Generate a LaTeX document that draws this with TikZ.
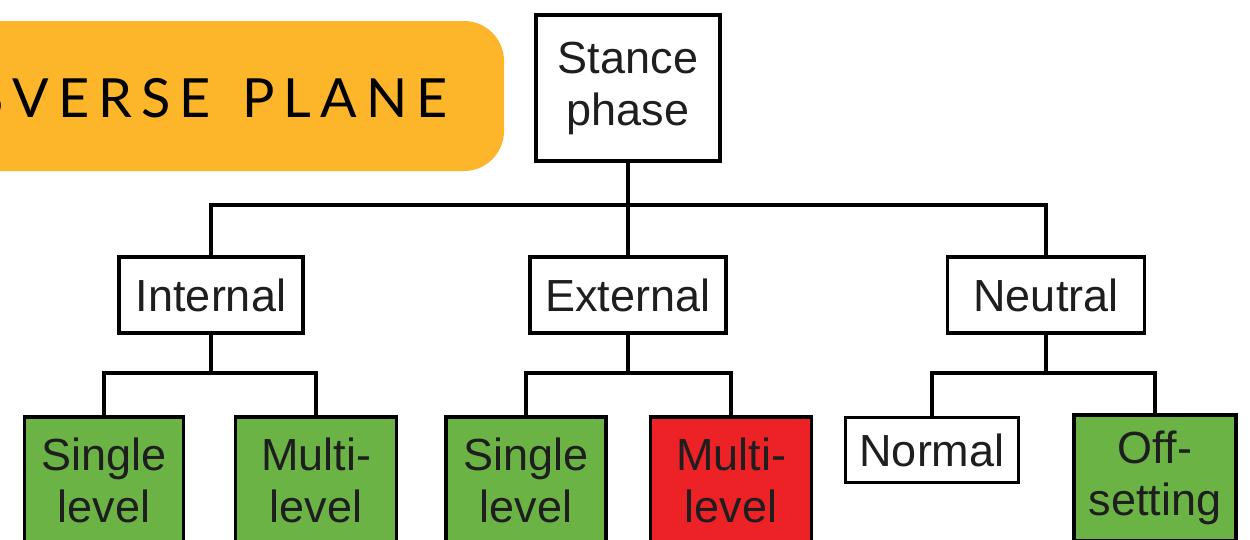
\documentclass[tikz,border=0pt]{standalone}
\usepackage{fontspec}
\setmainfont{Liberation Sans}
\newfontfamily\bannerfont[LetterSpace=17]{Lato}
\definecolor{bannerorange}{HTML}{FDB52A}
\definecolor{leafgreen}{HTML}{6BB345}
\definecolor{leafred}{HTML}{EC2227}
\definecolor{inkgray}{HTML}{1E1E1E}
\begin{document}
\begin{tikzpicture}[x=1pt,y=-1pt,
  box/.style={draw=black, line width=3.8pt, fill=white, inner sep=0pt,
    align=center, text=inkgray, font=\fontsize{45}{52}\selectfont},
  catbox/.style={box, minimum height=76pt},
  leafbox/.style={box, minimum height=126pt},
  greenleaf/.style={leafbox, fill=leafgreen},
  redleaf/.style={leafbox, fill=leafred},
  link/.style={draw=black, line width=3.3pt}
]
\useasboundingbox (0,0) rectangle (1250,539);
\clip (0,0) rectangle (1250,539);

% title banner, running off the left edge
\fill[bannerorange, rounded corners=40pt] (-60,21) rectangle (504,171);
\node[anchor=base east, inner sep=0pt, font=\bannerfont\fontsize{54}{54}\selectfont, text=black]
  (banner) at (448,117) {TRANSVERSE\hspace{8pt} PLANE};

% root
\node[box, minimum width=184pt, minimum height=146pt] (stance) at (628,88) {Stance\\phase};

% second level
\node[catbox, minimum width=184pt] (internal) at (211,295) {Internal};
\node[catbox, minimum width=196pt] (external) at (628,295) {External};
\node[catbox, minimum width=197pt] (neutral)  at (1046,295) {Neutral};

% leaves
\node[greenleaf, minimum width=159pt] (sl1) at (104,480) {Single\\level};
\node[greenleaf, minimum width=161pt] (ml1) at (316,480) {Multi-\\level};
\node[greenleaf, minimum width=160pt] (sl2) at (526,480) {Single\\level};
\node[redleaf,   minimum width=161pt] (ml2) at (731,480) {Multi-\\level};
\node[box, minimum width=173pt, minimum height=65pt] (normal) at (932,450) {Normal};
\node[greenleaf, minimum width=162pt] (off) at (1155,478) {Off-\\setting};

% junctions of the tree
\coordinate (j0) at (628,205);
\coordinate (j1) at (211,373);
\coordinate (j2) at (628,373);
\coordinate (j3) at (1046,373);

\draw[link] (stance.south) -- (j0);
\draw[link] (j0) -| (internal.north);
\draw[link] (j0) -| (neutral.north);
\draw[link] (j0) -- (external.north);

\draw[link] (internal.south) -- (j1);
\draw[link] (j1) -| (sl1.north);
\draw[link] (j1) -| (ml1.north);

\draw[link] (external.south) -- (j2);
\draw[link] (j2) -| (sl2.north);
\draw[link] (j2) -| (ml2.north);

\draw[link] (neutral.south) -- (j3);
\draw[link] (j3) -| (normal.north);
\draw[link] (j3) -| (off.north);
\end{tikzpicture}
\end{document}
